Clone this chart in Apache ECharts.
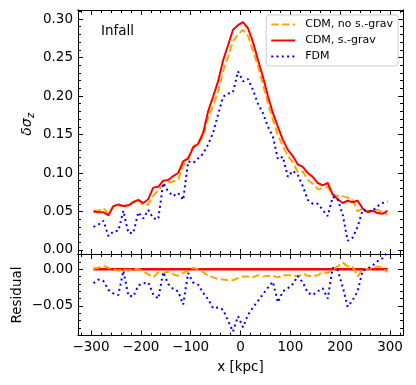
<!DOCTYPE html>
<html>
<head>
<meta charset="utf-8">
<script src="https://cdn.jsdelivr.net/npm/echarts@6/dist/echarts.min.js"></script>
<style>
  html, body { margin: 0; padding: 0; background: #fff; }
  #chart { width: 416px; height: 385px; }
</style>
</head>
<body>
<div id="chart"></div>
<script>
// bin centres, kpc
const xs = [-295, -285, -275, -265, -255, -245, -235, -225, -215, -205,
  -195, -185, -175, -165, -155, -145, -135, -125, -115, -105,
  -95, -85, -75, -65, -55, -45, -35, -25, -15, -5,
  5, 15, 25, 35, 45, 55, 65, 75, 85, 95,
  105, 115, 125, 135, 145, 155, 165, 175, 185, 195,
  205, 215, 225, 235, 245, 255, 265, 275, 285, 295];

// top panel: delta sigma_z
const cdmNoSg = [0.051, 0.051, 0.054, 0.047, 0.057, 0.057, 0.057, 0.056, 0.063, 0.065,
  0.058, 0.059, 0.070, 0.078, 0.084, 0.088, 0.089, 0.091, 0.110, 0.117,
  0.135, 0.138, 0.148, 0.171, 0.188, 0.206, 0.232, 0.251, 0.271, 0.280,
  0.286, 0.278, 0.259, 0.239, 0.215, 0.191, 0.169, 0.149, 0.135, 0.122,
  0.114, 0.101, 0.102, 0.091, 0.086, 0.079, 0.080, 0.082, 0.072, 0.070,
  0.070, 0.068, 0.065, 0.050, 0.054, 0.050, 0.052, 0.052, 0.049, 0.046];
const cdmSg = [0.050, 0.049, 0.049, 0.045, 0.057, 0.059, 0.057, 0.058, 0.062, 0.065,
  0.061, 0.066, 0.081, 0.082, 0.090, 0.091, 0.096, 0.100, 0.115, 0.119,
  0.133, 0.138, 0.152, 0.180, 0.199, 0.219, 0.246, 0.266, 0.286, 0.292,
  0.296, 0.288, 0.270, 0.247, 0.225, 0.200, 0.178, 0.160, 0.143, 0.130,
  0.122, 0.111, 0.108, 0.100, 0.095, 0.087, 0.084, 0.087, 0.072, 0.066,
  0.061, 0.064, 0.062, 0.064, 0.054, 0.049, 0.051, 0.048, 0.047, 0.051];
const fdm = [0.030, 0.033, 0.038, 0.018, 0.024, 0.025, 0.051, 0.022, 0.022, 0.049,
  0.041, 0.052, 0.041, 0.040, 0.087, 0.076, 0.070, 0.074, 0.065, 0.115,
  0.113, 0.119, 0.125, 0.137, 0.152, 0.176, 0.199, 0.203, 0.205, 0.232,
  0.219, 0.222, 0.208, 0.190, 0.178, 0.160, 0.147, 0.118, 0.121, 0.095,
  0.103, 0.097, 0.083, 0.065, 0.060, 0.060, 0.052, 0.044, 0.069, 0.066,
  0.046, 0.012, 0.016, 0.030, 0.052, 0.050, 0.051, 0.057, 0.061, 0.063];

// bottom panel: residuals
const resNoSg = [0.001, 0.002, 0.005, 0.002, 0.000, -0.002, 0.000, -0.002, 0.001, 0.000,
  -0.003, -0.007, -0.011, -0.004, -0.006, -0.003, -0.007, -0.009, -0.005, -0.002,
  0.002, 0.000, -0.004, -0.009, -0.011, -0.013, -0.014, -0.015, -0.015, -0.012,
  -0.010, -0.010, -0.011, -0.008, -0.010, -0.009, -0.009, -0.011, -0.008, -0.008,
  -0.008, -0.010, -0.006, -0.009, -0.009, -0.008, -0.004, -0.005, 0.000, 0.004,
  0.009, 0.004, 0.003, -0.010, 0.000, 0.001, 0.001, 0.004, 0.002, -0.004];
const resSg = [0, 0, 0, 0, 0, 0, 0, 0, 0, 0,
  0, 0, 0, 0, 0, 0, 0, 0, 0, 0,
  0, 0, 0, 0, 0, 0, 0, 0, 0, 0,
  0, 0, 0, 0, 0, 0, 0, 0, 0, 0,
  0, 0, 0, 0, 0, 0, 0, 0, 0, 0,
  0, 0, 0, 0, 0, 0, 0, 0, 0, 0];
const resFdm = [-0.019, -0.014, -0.016, -0.028, -0.033, -0.035, -0.002, -0.036, -0.037, -0.022,
  -0.019, -0.018, -0.034, -0.040, -0.004, -0.020, -0.027, -0.030, -0.048, -0.005,
  -0.018, -0.021, -0.032, -0.041, -0.053, -0.052, -0.055, -0.070, -0.085, -0.064,
  -0.079, -0.062, -0.052, -0.043, -0.034, -0.025, -0.017, -0.045, -0.030, -0.026,
  -0.020, -0.009, -0.018, -0.032, -0.035, -0.030, -0.026, -0.040, 0.002, -0.001,
  -0.024, -0.051, -0.042, -0.030, -0.002, 0.001, 0.005, 0.011, 0.015, 0.024];

const names = ['CDM, no s.-grav', 'CDM, s.-grav', 'FDM'];
const xTicks = [-300, -200, -100, 0, 100, 200, 300];
const yTopTicks = [0, 0.05, 0.10, 0.15, 0.20, 0.25, 0.30];
const yResTicks = [-0.05, 0.00];

const FONT = 'DejaVu Sans';
const BLACK = '#000';

function range(a, b, step) {
  const out = [];
  for (let v = a; v <= b + 1e-9; v += step) out.push(+v.toFixed(4));
  return out;
}
const xMinor = range(-320, 320, 20);
const yTopMinor = range(0, 0.31, 0.01);
const yResMinor = range(-0.09, 0.02, 0.01);

const fmt2 = v => v.toFixed(2).replace('-', '\u2212');
const fmtX = v => String(v).replace('-', '\u2212');

// one axis = line + inward ticks, optional labels
function axis(gridIndex, pos, min, max, ticks, len, labelFmt) {
  return {
    type: 'value', gridIndex: gridIndex, position: pos, min: min, max: max,
    axisLine: { show: true, onZero: false, lineStyle: { color: BLACK, width: 1 } },
    axisTick: { show: true, inside: true, length: len, customValues: ticks,
      lineStyle: { color: BLACK, width: 1 } },
    axisLabel: labelFmt ? { show: true, customValues: ticks, formatter: labelFmt,
      margin: 5, color: BLACK, fontSize: 13.5, fontFamily: FONT } : { show: false },
    splitLine: { show: false }
  };
}

const X_MIN = -326, X_MAX = 326;
const xAxes = [
  axis(0, 'bottom', X_MIN, X_MAX, xTicks, 5),
  axis(0, 'bottom', X_MIN, X_MAX, xMinor, 3),
  axis(0, 'top', X_MIN, X_MAX, xTicks, 5),
  axis(0, 'top', X_MIN, X_MAX, xMinor, 3),
  axis(1, 'bottom', X_MIN, X_MAX, xTicks, 5, fmtX),
  axis(1, 'bottom', X_MIN, X_MAX, xMinor, 3),
  axis(1, 'top', X_MIN, X_MAX, xTicks, 5),
  axis(1, 'top', X_MIN, X_MAX, xMinor, 3)
];
const TOP_MIN = -0.0052, TOP_MAX = 0.3117;
const RES_MIN = -0.0902, RES_MAX = 0.0208;
const yAxes = [
  axis(0, 'left', TOP_MIN, TOP_MAX, yTopTicks, 5, fmt2),
  axis(0, 'left', TOP_MIN, TOP_MAX, yTopMinor, 3),
  axis(0, 'right', TOP_MIN, TOP_MAX, yTopTicks, 5),
  axis(0, 'right', TOP_MIN, TOP_MAX, yTopMinor, 3),
  axis(1, 'left', RES_MIN, RES_MAX, yResTicks, 5, fmt2),
  axis(1, 'left', RES_MIN, RES_MAX, yResMinor, 3),
  axis(1, 'right', RES_MIN, RES_MAX, yResTicks, 5),
  axis(1, 'right', RES_MIN, RES_MAX, yResMinor, 3)
];

const styles = [
  { color: '#FFA500', width: 2, type: [7.5, 3.3] },
  { color: '#FF0000', width: 2, type: 'solid' },
  { color: '#0000FF', width: 2, type: [2, 3.3] }
];

function line(name, ys, panel, style) {
  return {
    name: name, type: 'line',
    xAxisIndex: panel * 4, yAxisIndex: panel * 4,
    data: xs.map((x, i) => [x, ys[i]]),
    symbol: 'none', clip: true,
    lineStyle: style, itemStyle: { color: style.color },
    emphasis: { disabled: true }
  };
}

const chart = echarts.init(document.getElementById('chart'));
chart.setOption({
  animation: false,
  backgroundColor: '#fff',
  grid: [
    { left: 78, right: 13, top: 10, height: 244, outerBoundsMode: 'none' },
    { left: 78, right: 13, top: 254, height: 81.5, outerBoundsMode: 'none' }
  ],
  xAxis: xAxes,
  yAxis: yAxes,
  legend: {
    data: names, orient: 'vertical', right: 18, top: 15,
    itemWidth: 24, itemHeight: 12, itemGap: 5, padding: [4, 5, 4, 4],
    backgroundColor: 'rgba(255,255,255,0.8)', borderColor: '#ccc', borderWidth: 1,
    borderRadius: 3, selectedMode: false,
    itemStyle: { opacity: 0 },
    textStyle: { fontSize: 11, fontFamily: FONT, color: BLACK, padding: [0, 0, 0, 5] }
  },
  series: [
    line(names[0], cdmNoSg, 0, styles[0]),
    line(names[1], cdmSg, 0, styles[1]),
    line(names[2], fdm, 0, styles[2]),
    line(names[1], resSg, 1, Object.assign({}, styles[1], { width: 2.5 })),
    line(names[0], resNoSg, 1, styles[0]),
    line(names[2], resFdm, 1, styles[2])
  ],
  graphic: [
    { type: 'text', x: 101, y: 31,
      style: { text: 'Infall', fontSize: 13.5, fontFamily: FONT, fill: BLACK, verticalAlign: 'middle' } },
    { type: 'group', x: 27, y: 124, rotation: Math.PI / 2, children: [
      { type: 'text', style: { text: 'δσ', x: -3, y: 0, fontSize: 14, fontStyle: 'italic',
        fontFamily: FONT, fill: BLACK, align: 'center', verticalAlign: 'middle' } },
      { type: 'text', style: { text: 'z', x: 6, y: 4, fontSize: 10, fontStyle: 'italic',
        fontFamily: FONT, fill: BLACK, align: 'left', verticalAlign: 'middle' } }
    ] },
    { type: 'text', x: 17, y: 295, rotation: Math.PI / 2,
      style: { text: 'Residual', fontSize: 13.5, fontFamily: FONT, fill: BLACK,
        align: 'center', verticalAlign: 'middle' } },
    { type: 'text', x: 240.5, y: 367,
      style: { text: 'x [kpc]', fontSize: 13.5, fontFamily: FONT, fill: BLACK,
        align: 'center', verticalAlign: 'middle' } }
  ]
});
</script>
</body>
</html>
